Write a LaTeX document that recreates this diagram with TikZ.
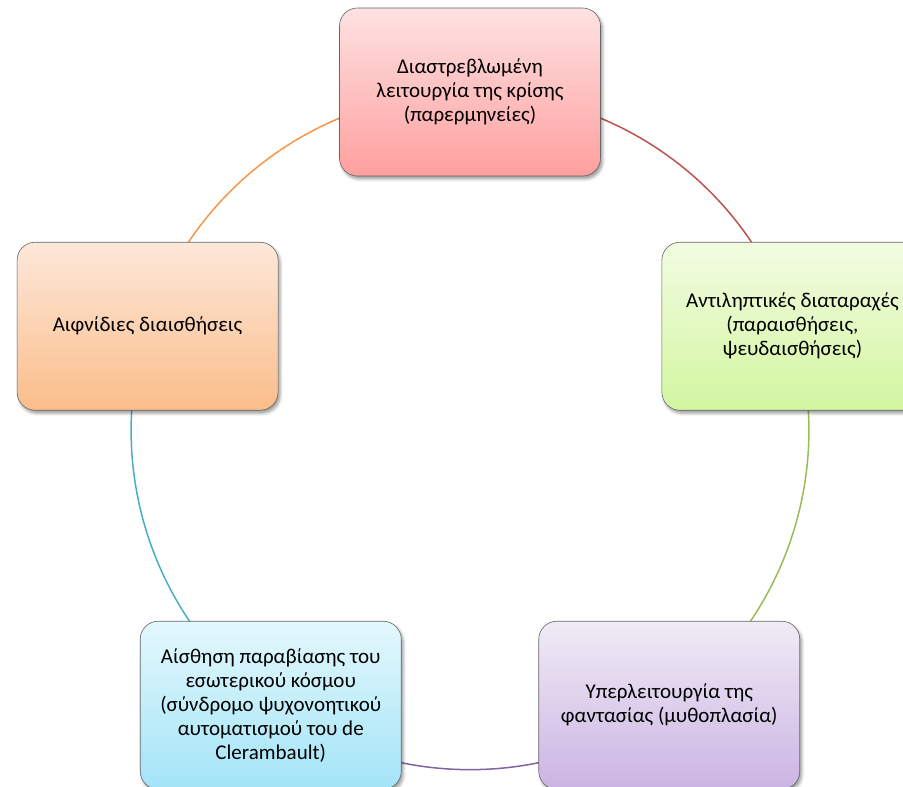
\documentclass[tikz,border=0pt]{standalone}
\usepackage{fontspec}
\setmainfont{Carlito}
\usetikzlibrary{shadows.blur,backgrounds}
\definecolor{lnred}{HTML}{C0504D}
\definecolor{lngreen}{HTML}{9BBB59}
\definecolor{lnpurple}{HTML}{8064A2}
\definecolor{lnteal}{HTML}{4BACC6}
\definecolor{lnorange}{HTML}{F79646}
\definecolor{redT}{HTML}{FEE2E2}\definecolor{redB}{HTML}{FF9F9F}
\definecolor{greenT}{HTML}{F2FCE2}\definecolor{greenB}{HTML}{D3F6A0}
\definecolor{purT}{HTML}{F0EBF6}\definecolor{purB}{HTML}{CBB4E3}
\definecolor{bluT}{HTML}{E3F8FD}\definecolor{bluB}{HTML}{A3E4F7}
\definecolor{oraT}{HTML}{FDE8DA}\definecolor{oraB}{HTML}{FBBD8A}
\begin{document}
\begin{tikzpicture}[x=1pt,y=1pt,
  box/.style={rectangle, rounded corners=18pt, minimum width=261pt, minimum height=168pt,
    draw=black!60, line width=0.6pt, align=center, inner sep=4pt,
    font=\fontsize{21}{24}\selectfont,
    blur shadow={shadow xshift=2pt, shadow yshift=-3pt, shadow blur radius=3pt}},
  link/.style={line width=1.5pt},
]
\useasboundingbox (0,0) rectangle (903,787);
\clip (0,0) rectangle (903,787);
\coordinate (c) at (470,356);
\node[box, top color=redT, bottom color=redB] (top) at ([shift={(90:339)}]c)
  {Διαστρεβλωμένη\\λειτουργία της κρίσης\\(παρερμηνείες)};
\node[box, top color=greenT, bottom color=greenB] (right) at ([shift={(18:339)}]c)
  {Αντιληπτικές διαταραχές\\(παραισθήσεις,\\ψευδαισθήσεις)};
\node[box, top color=purT, bottom color=purB] (purple) at ([shift={(-54:339)}]c)
  {Υπερλειτουργία της\\φαντασίας (μυθοπλασία)};
\node[box, top color=bluT, bottom color=bluB] (blue) at ([shift={(-126:339)}]c)
  {Αίσθηση παραβίασης του\\εσωτερικού κόσμου\\(σύνδρομο ψυχονοητικού\\αυτοματισμού του de\\Clerambault)};
\node[box, top color=oraT, bottom color=oraB] (left) at ([shift={(162:339)}]c)
  {Αιφνίδιες διαισθήσεις};
\begin{pgfonlayer}{background}
\draw[link, lnred] (top.center) to[bend left=36, looseness=0.94] (right.center);
\draw[link, lngreen] (right.center) to[bend left=36, looseness=0.94] (purple.center);
\draw[link, lnpurple] (purple.center) to[bend left=36, looseness=0.94] (blue.center);
\draw[link, lnteal] (blue.center) to[bend left=36, looseness=0.94] (left.center);
\draw[link, lnorange] (left.center) to[bend left=36, looseness=0.94] (top.center);
\end{pgfonlayer}
\end{tikzpicture}
\end{document}
